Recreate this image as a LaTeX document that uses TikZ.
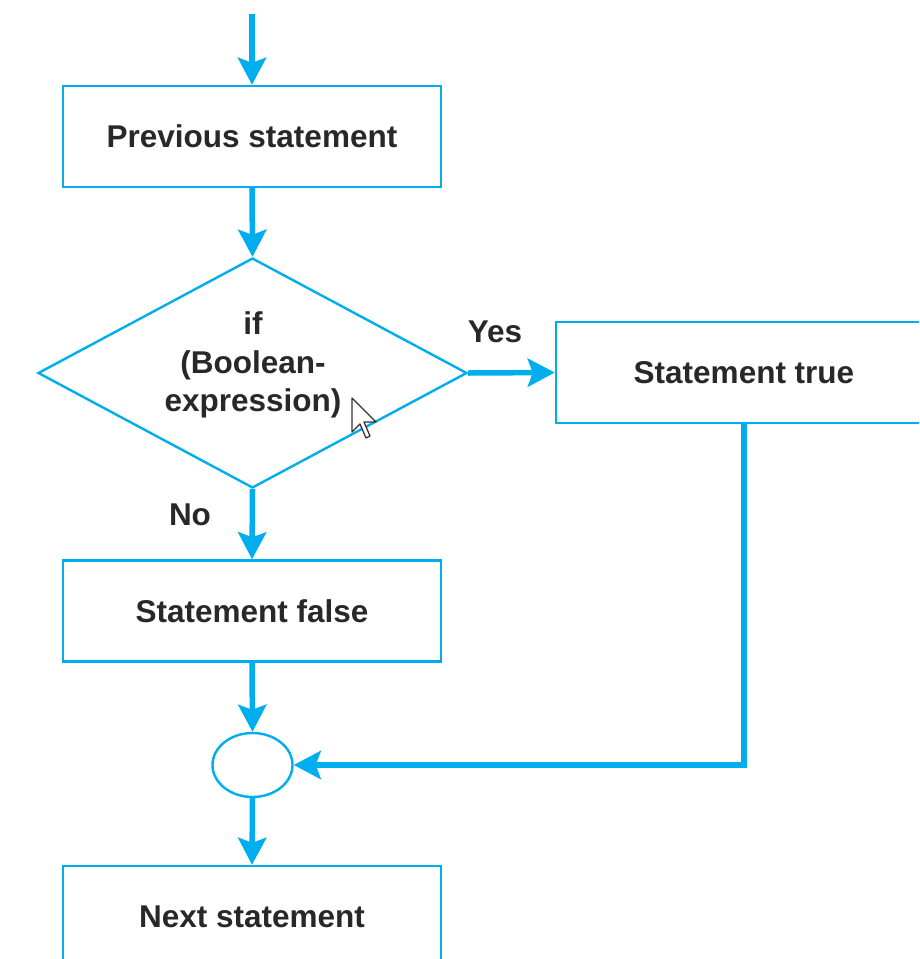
\documentclass[tikz,border=0pt]{standalone}
\usepackage{fontspec}
\setmainfont{Liberation Sans}
\usetikzlibrary{shapes.geometric,arrows.meta}
\definecolor{flowblue}{RGB}{0,174,239}
\definecolor{ink}{RGB}{40,40,40}
\begin{document}
\begin{tikzpicture}[x=1pt,y=-1pt,
  stmt/.style={draw=flowblue,line width=2.4pt,minimum width=378pt,minimum height=101pt,
    inner sep=0pt,font=\fontsize{31.5}{37}\selectfont\bfseries,text=ink},
  decision/.style={draw=flowblue,line width=2.4pt,diamond,aspect=1.865,inner sep=0pt,
    minimum width=429pt,minimum height=230pt},
  junction/.style={draw=flowblue,line width=2.4pt,ellipse,inner sep=0pt,
    minimum width=80pt,minimum height=64pt},
  flow/.style={draw=flowblue,line width=5.5pt,
    -{Stealth[length=27pt,width=28pt,inset=5pt]}},
  lbl/.style={font=\fontsize{31.5}{38.5}\selectfont\bfseries,text=ink,inner sep=0pt,align=center}
]
\clip (0,0) rectangle (919,959);
\fill[white] (0,0) rectangle (919,959);

% boxes and shapes
\node[stmt] (prev) at (252,136.5) {Previous statement};
\node[decision] (dec) at (252.5,373) {};
\node[lbl] (dectext) at (253,365) {if\\(Boolean-\\expression)};
\node[stmt,minimum width=376pt] (st) at (744,372.5) {Statement true};
\node[stmt] (sf) at (252,611) {Statement false};
\node[junction] (merge) at (252.5,765) {};
\node[stmt] (next) at (252,916.5) {Next statement};

% branch labels
\node[lbl] (yes) at (495,332) {Yes};
\node[lbl] (no) at (190,515) {No};

% connectors
\coordinate (entry) at (252,14);
\draw[flow] (entry) -- (prev.north);
\draw[flow] (prev.south) -- (dec.north);
\draw[flow] (dec.east) -- (st.west);
\draw[flow] (dec.south) -- (sf.north);
\draw[flow] (sf.south) -- (merge.north);
\draw[flow] (st.south) |- (merge.east);
\draw[flow] (merge.south) -- (next.north);

% mouse pointer
\draw[fill=white,draw=black!80,line width=1.3pt,line join=round]
  (352,398) -- ++(0,34) -- ++(8,-8) -- ++(6,14) -- ++(4,-2) -- ++(-6,-14) -- ++(12,0) -- cycle;
\end{tikzpicture}
\end{document}
